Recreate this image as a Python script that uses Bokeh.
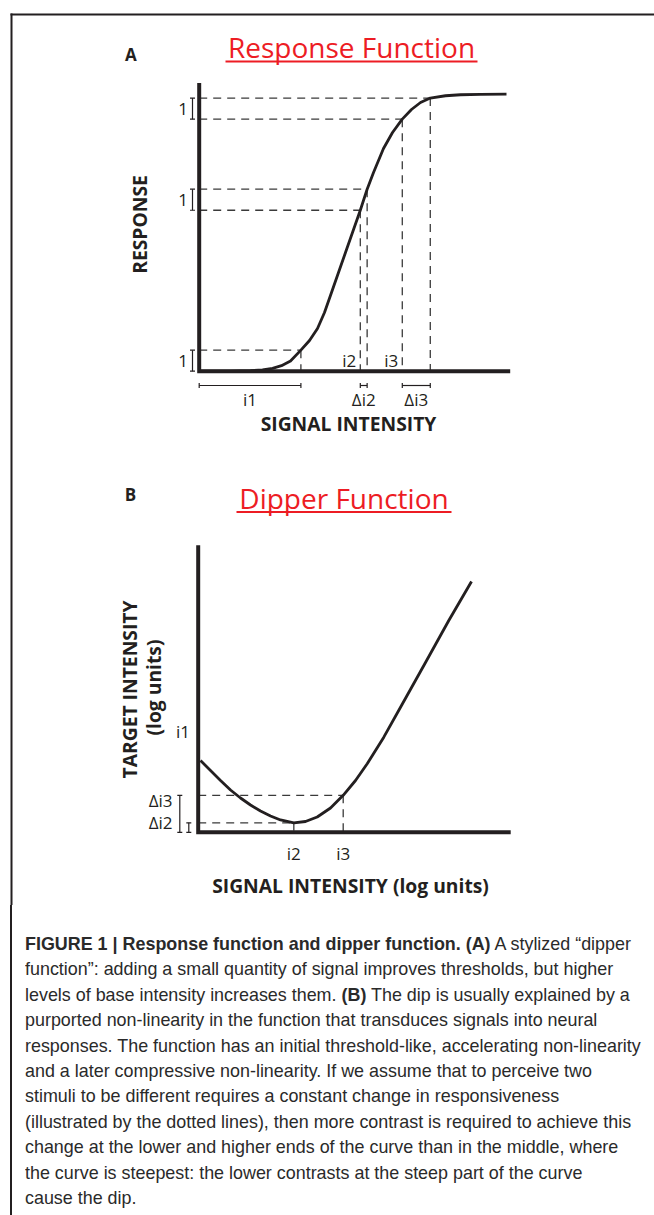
import numpy as np
from bokeh.plotting import figure
from bokeh.models import ColumnDataSource, Range1d, Whisker, TeeHead, BoxAnnotation, Div
from bokeh.layouts import column
from bokeh.core.properties import value
from bokeh.embed import file_html
from bokeh.resources import INLINE

# ---------------- data ----------------
# Panel A: stylised response function (signal intensity vs response, arbitrary units)
a_intensity = [0.0, 1.006, 1.650, 2.035, 2.357, 2.646, 2.936, 3.27, 3.547, 3.804, 4.029,
               4.277, 4.704, 5.18, 5.40, 5.605, 5.926, 6.216, 6.53, 6.826, 7.116, 7.43,
               7.920, 8.402, 9.045, 9.881]
a_response = [0.0, 0.0004, 0.0018, 0.0051, 0.0105, 0.0199, 0.0368, 0.076, 0.1108, 0.1542,
              0.2120, 0.2914, 0.4285, 0.581, 0.657, 0.7173, 0.8040, 0.8617, 0.910, 0.9448,
              0.9700, 0.986, 0.9944, 0.9980, 0.9996, 1.0]
# intensity pairs that give one unit of response change
a_pair_names = ["i1", "Δi2", "Δi3"]
a_pair_lo_int = [0.0, 5.18, 6.53]
a_pair_hi_int = [3.27, 5.40, 7.43]
a_pair_lo_resp = [0.0, 0.581, 0.910]
a_pair_hi_resp = [0.076, 0.657, 0.986]
a_unit_labels = ["1", "1", "1"]
a_base_names = ["i2", "i3"]
a_base_int = [5.18, 6.53]
a_axis_extent = [10.0, 1.04]

# Panel B: dipper function (log units)
b_intensity = [0.074, 0.394, 0.714, 1.034, 1.354, 1.674, 1.994, 2.314, 2.634, 3.06, 3.434,
               3.808, 4.234, 4.64, 5.034, 5.408, 5.939, 6.474, 7.274, 8.019, 8.746]
b_threshold = [2.502, 2.153, 1.805, 1.474, 1.195, 0.951, 0.742, 0.568, 0.429, 0.33, 0.376,
               0.533, 0.847, 1.29, 1.805, 2.387, 3.314, 4.359, 5.916, 7.380, 8.739]
b_tick_names = ["i2", "i3"]
b_tick_int = [3.06, 4.64]
b_tick_thr = [0.33, 1.29]
b_thr_names = ["Δi2", "Δi3"]
b_i1_name = ["i1"]
b_i1_level = [3.52]
b_axis_extent = [10.0, 10.0]

caption_lines = [
    "<b>FIGURE 1 | Response function and dipper function. (A)</b> A stylized \u201cdipper",
    "function\u201d: adding a small quantity of signal improves thresholds, but higher",
    "levels of base intensity increases them. <b>(B)</b> The dip is usually explained by a",
    "purported non-linearity in the function that transduces signals into neural",
    "responses. The function has an initial threshold-like, accelerating non-linearity",
    "and a later compressive non-linearity. If we assume that to perceive two",
    "stimuli to be different requires a constant change in responsiveness",
    "(illustrated by the dotted lines), then more contrast is required to achieve this",
    "change at the lower and higher ends of the curve than in the middle, where",
    "the curve is steepest: the lower contrasts at the steep part of the curve",
    "cause the dip.",
]

# ---------------- layout (page pixels) ----------------
W, H_FIG, H_CAP = 654, 905, 310
PX0, PY0 = 0, 0
A_OX, A_OY, A_SX, A_SY = 198.7, 370.7, 31.1, 277.0
B_OX, B_OY, B_SX, B_SY = 197.7, 831.8, 31.25, 28.7

def ax(px): return (px - A_OX) / A_SX
def ay(py): return (A_OY - py) / A_SY
def bx(px): return (px - B_OX) / B_SX
def by(py): return (B_OY - py) / B_SY

INK = "#231f20"
DASH = "#3a3a3a"
RED = "#ed1c24"
FONT = "Open Sans"
SMALL = "17px"
BOLD = "19.3px"

p = figure(width=W, height=H_FIG, output_backend="svg", toolbar_location=None,
           x_axis_location=None, y_axis_location=None, min_border=0, title=None,
           x_range=Range1d(ax(PX0), ax(PX0 + W)),
           y_range=Range1d(ay(PY0 + H_FIG), ay(PY0)))
p.extra_x_ranges = {"bx": Range1d(bx(PX0), bx(PX0 + W))}
p.extra_y_ranges = {"by": Range1d(by(PY0 + H_FIG), by(PY0))}
p.outline_line_color = None
p.background_fill_color = "white"
p.border_fill_color = "white"
for g in p.grid:
    g.visible = False

def box(l, r, t, b, color):
    p.add_layout(BoxAnnotation(left=ax(l), right=ax(r), top=ay(t), bottom=ay(b),
                               fill_color=color, fill_alpha=1.0, line_color=None, line_alpha=0))

# frame of the figure panel (top and left rules)
box(10, PX0 + W, 13, 15, INK)
box(10, 12, 13, PY0 + H_FIG, INK)

dash = "8 6"

# ================= Panel A =================
h_int = [a_pair_hi_int[0], a_pair_lo_int[1], a_pair_hi_int[1], a_pair_lo_int[2], a_pair_hi_int[2]]
h_resp = [a_pair_hi_resp[0], a_pair_lo_resp[1], a_pair_hi_resp[1], a_pair_lo_resp[2], a_pair_hi_resp[2]]
p.segment(x0=[0] * 5, y0=h_resp, x1=h_int, y1=h_resp,
          line_color=DASH, line_width=1.3, line_dash=dash)
p.segment(x0=h_int, y0=h_resp, x1=h_int, y1=[0] * 5,
          line_color=DASH, line_width=1.3, line_dash=dash)

p.line(a_intensity, a_response, line_color=INK, line_width=2.8, line_join="round")
p.line([0, 0, a_axis_extent[0]], [a_axis_extent[1], 0, 0], line_color=INK, line_width=4,
       line_join="miter")

# brackets (response units, left)
srcA1 = ColumnDataSource(dict(base=[ax(192)] * 3, lo=a_pair_lo_resp, hi=a_pair_hi_resp))
p.add_layout(Whisker(source=srcA1, base="base", lower="lo", upper="hi", dimension="height",
                     line_color=INK, line_width=1.2,
                     upper_head=TeeHead(size=5, line_color=INK, line_width=1.2),
                     lower_head=TeeHead(size=5, line_color=INK, line_width=1.2)))
p.text(x=[ax(187.5)] * 3, y=[(l + h) / 2 for l, h in zip(a_pair_lo_resp, a_pair_hi_resp)],
       text=a_unit_labels, text_align="right", text_baseline="middle",
       text_font=value(FONT), text_font_size=SMALL, text_color=INK)
# brackets (intensity, below axis)
srcA2 = ColumnDataSource(dict(base=[ay(385)] * 3, lo=a_pair_lo_int, hi=a_pair_hi_int))
p.add_layout(Whisker(source=srcA2, base="base", lower="lo", upper="hi", dimension="width",
                     line_color=INK, line_width=1.2,
                     upper_head=TeeHead(size=5, line_color=INK, line_width=1.2),
                     lower_head=TeeHead(size=5, line_color=INK, line_width=1.2)))
p.text(x=[(l + h) / 2 for l, h in zip(a_pair_lo_int, a_pair_hi_int)], y=[ay(398.5)] * 3,
       text=a_pair_names, text_align="center", text_baseline="middle",
       text_font=value(FONT), text_font_size=SMALL, text_color=INK)
p.text(x=a_base_int, y=[0, 0], text=a_base_names, text_align="right", text_baseline="middle",
       x_offset=-4, y_offset=-10.5, text_font=value(FONT), text_font_size=SMALL, text_color=INK)

# titles and axis labels
p.text(x=[ax(130.3)], y=[ay(54)], text=["A"], text_align="center", text_baseline="middle",
       text_font=value(FONT), text_font_style="bold", text_font_size="17px", text_color=INK)
p.text(x=[ax(351)], y=[ay(46.5)], text=["Response Function"], text_align="center",
       text_baseline="middle", text_font=value(FONT), text_font_size="28px", text_color=RED)
box(225, 477, 60, 62, RED)
p.text(x=[ax(139)], y=[ay(224)], text=["RESPONSE"], angle=np.pi / 2, text_align="center",
       text_baseline="middle", text_font=value(FONT), text_font_style="bold",
       text_font_size=BOLD, text_color=INK)
p.text(x=[ax(348)], y=[ay(423)], text=["SIGNAL INTENSITY"], text_align="center",
       text_baseline="middle", text_font=value(FONT), text_font_style="bold",
       text_font_size=BOLD, text_color=INK)

# ================= Panel B =================
RB = dict(x_range_name="bx", y_range_name="by")
p.segment(x0=[0, 0], y0=b_tick_thr, x1=b_tick_int, y1=b_tick_thr,
          line_color=DASH, line_width=1.3, line_dash=dash, **RB)
p.segment(x0=b_tick_int, y0=b_tick_thr, x1=b_tick_int, y1=[0, 0],
          line_color=DASH, line_width=1.3, line_dash=dash, **RB)
p.line(b_intensity, b_threshold, line_color=INK, line_width=2.8, line_join="round", **RB)
p.line([0, 0, b_axis_extent[0]], [b_axis_extent[1], 0, 0], line_color=INK, line_width=4,
       line_join="miter", **RB)

srcB = ColumnDataSource(dict(base=[bx(179.3), bx(188.3)], lo=[0, 0],
                             hi=[b_tick_thr[1], b_tick_thr[0]]))
p.add_layout(Whisker(source=srcB, base="base", lower="lo", upper="hi", dimension="height",
                     line_color=INK, line_width=1.2,
                     upper_head=TeeHead(size=5, line_color=INK, line_width=1.2),
                     lower_head=TeeHead(size=5, line_color=INK, line_width=1.2), **RB))
p.text(x=[bx(172)] * 2, y=b_tick_thr, text=b_thr_names, text_align="right",
       text_baseline="middle", y_offset=[0, 5.5], text_font=value(FONT),
       text_font_size=SMALL, text_color=INK, **RB)
p.text(x=[bx(189.5)], y=b_i1_level, text=b_i1_name, text_align="right",
       text_baseline="middle", text_font=value(FONT), text_font_size=SMALL,
       text_color=INK, **RB)
p.text(x=b_tick_int, y=[0, 0], text=b_tick_names, text_align="center",
       text_baseline="middle", y_offset=20.7, text_font=value(FONT),
       text_font_size=SMALL, text_color=INK, **RB)

p.text(x=[ax(130)], y=[ay(494)], text=["B"], text_align="center", text_baseline="middle",
       text_font=value(FONT), text_font_style="bold", text_font_size="17px", text_color=INK)
p.text(x=[ax(343.5)], y=[ay(497)], text=["Dipper Function"], text_align="center",
       text_baseline="middle", text_font=value(FONT), text_font_size="28px", text_color=RED)
box(236, 451, 510.5, 512.5, RED)
p.text(x=[ax(129.3), ax(153.3)], y=[ay(689), ay(687)],
       text=["TARGET INTENSITY", "(log units)"], angle=np.pi / 2, text_align="center",
       text_baseline="middle", text_font=value(FONT), text_font_style="bold",
       text_font_size=BOLD, text_color=INK)
p.text(x=[ax(350)], y=[ay(885)], text=["SIGNAL INTENSITY (log units)"], text_align="center",
       text_baseline="middle", text_font=value(FONT), text_font_style="bold",
       text_font_size=BOLD, text_color=INK)

# ================= Caption =================
cap_html = (
    '<div style="margin:0 0 0 10px; border-left:2px solid %s; height:%dpx; '
    'padding:26px 0 0 13px; box-sizing:border-box; overflow:hidden;">'
    '<div style="font-family:\'Liberation Sans\', Arial, sans-serif; font-size:18.6px; '
    'line-height:25.4px; color:#2a2a2a; white-space:nowrap; transform:scaleX(0.963); '
    'transform-origin:0 0;">%s</div></div>'
    % (INK, H_CAP, "<br>".join(caption_lines))
)
cap = Div(text=cap_html, width=W, height=H_CAP, margin=(0, 0, 0, 0))

layout = column(p, cap, spacing=0)
open("out.html", "w").write(file_html(layout, INLINE))
